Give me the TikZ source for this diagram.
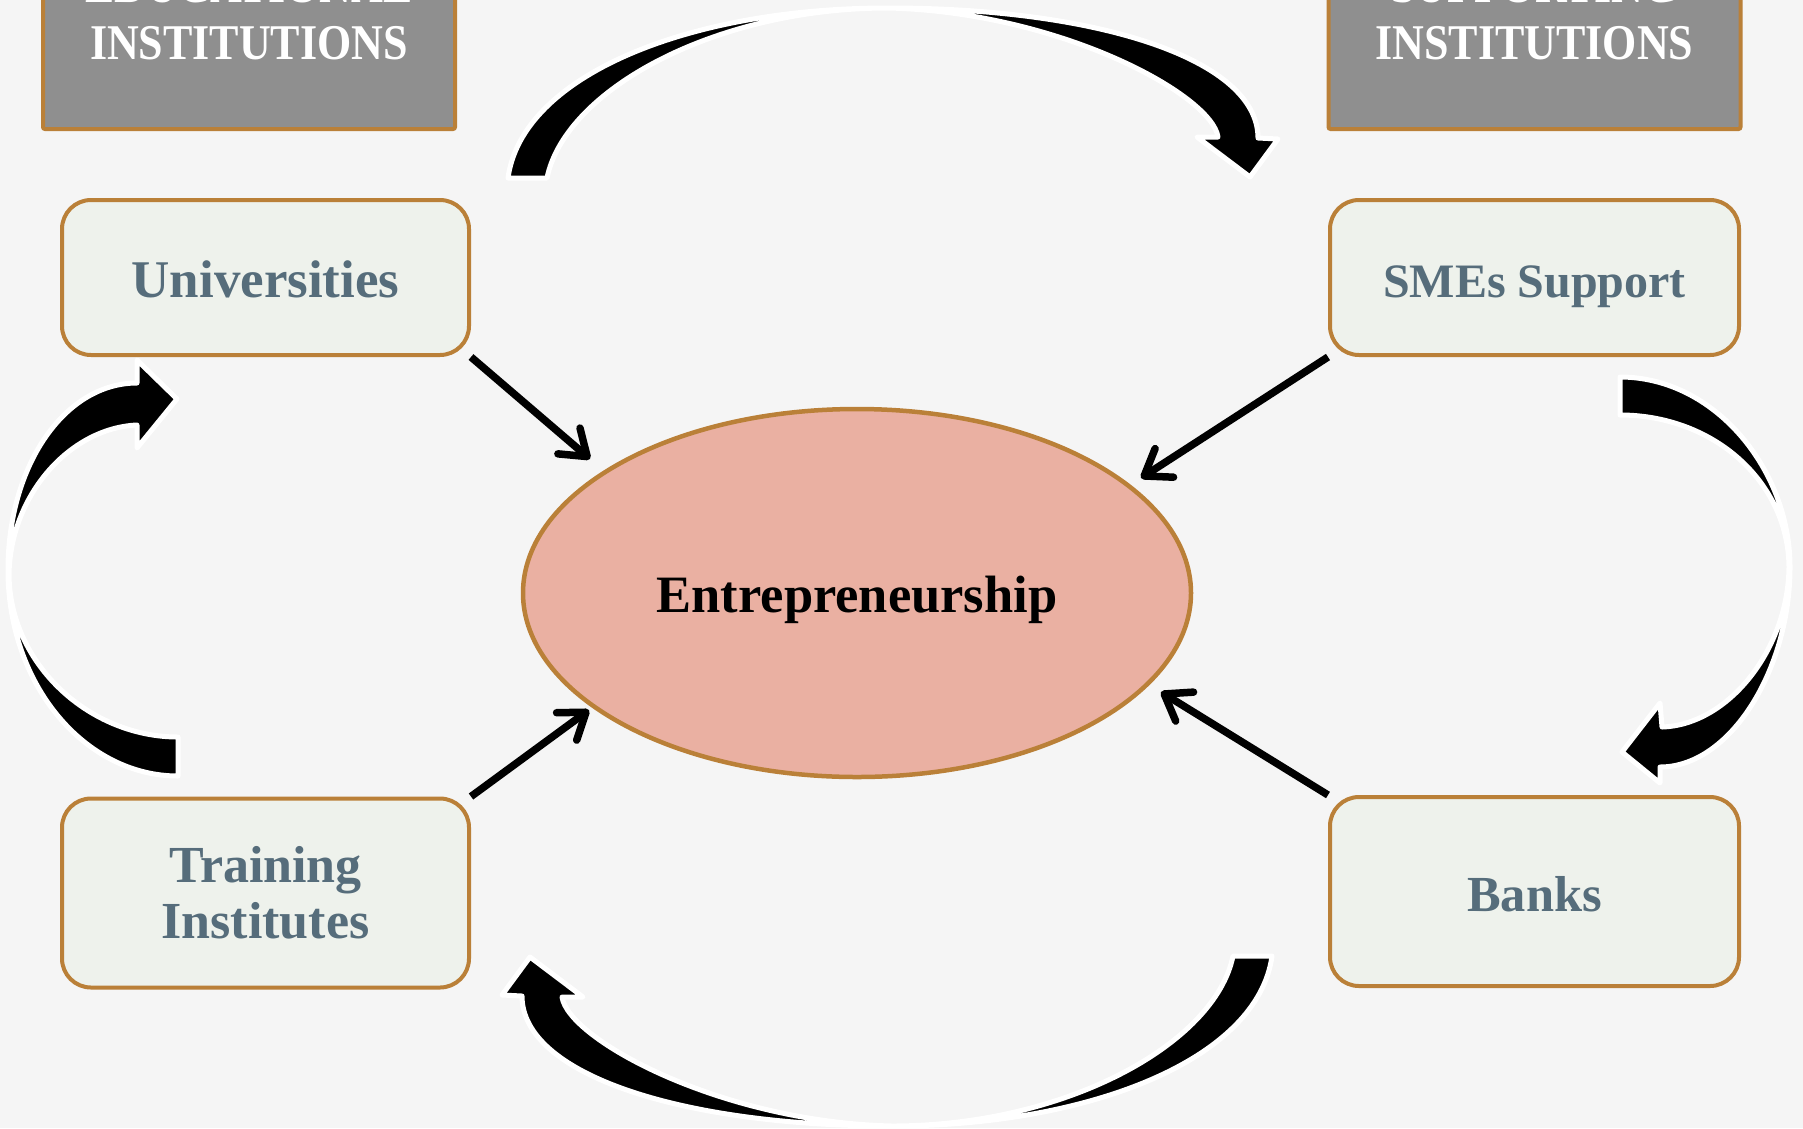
\documentclass[tikz,border=0pt]{standalone}
\usepackage{fontspec}
\setmainfont{Liberation Serif}
\newfontfamily\capsfont{Liberation Serif}[FakeStretch=0.88]
\usetikzlibrary{shapes.geometric,arrows.meta}
\definecolor{bg}{HTML}{F5F5F5}
\definecolor{gold}{HTML}{BA8038}
\definecolor{grayfill}{HTML}{8F8F8F}
\definecolor{lightfill}{HTML}{EEF2EC}
\definecolor{slate}{HTML}{566D7B}
\definecolor{pinkfill}{HTML}{EAB0A2}
\begin{document}
\begin{tikzpicture}[x=1pt,y=-1pt,
 graybox/.style={draw=gold, line width=4pt, fill=grayfill, minimum width=412pt, minimum height=260pt, inner sep=0pt, rounded corners=2pt},
 graylabel/.style={text=white, font=\capsfont\bfseries\fontsize{50}{57}\selectfont, align=center, inner sep=0pt, text depth=0pt, anchor=south},
 lightbox/.style={draw=gold, line width=4pt, fill=lightfill, rounded corners=29pt, inner sep=0pt, text=slate, align=center},
 oneline/.style={text height=39pt, text depth=0pt},
 centre/.style={ellipse, draw=gold, line width=4.5pt, fill=pinkfill, minimum width=668pt, minimum height=368pt, inner sep=0pt, font=\bfseries\fontsize{52.5}{56}\selectfont, text height=39pt, text depth=0pt},
 thinarrow/.style={line width=7.5pt, -{Straight Barb[length=24pt,width=34pt,line cap=round,line join=round]}},
 bigarrow/.style={fill=black, draw=white, line width=5pt, line join=round}]
\fill[bg] (0,0) rectangle (1803,1128);
\useasboundingbox (0,0) rectangle (1803,1128);
\clip (0,0) rectangle (1803,1128);

% big curved arrows
\path[bigarrow] (508,178) .. controls (522,75) and (690,8) .. (888,8)
  .. controls (1100,8) and (1258,60) .. (1258,138)
  -- (1278,139) -- (1250,177) -- (1197,137) -- (1218,137)
  .. controls (1212,95) and (1060,12) .. (888,8)
  .. controls (715,8) and (565,90) .. (547,178) -- cycle;
\begin{scope}[rotate around={180:(890,567)}]
\path[bigarrow] (508,178) .. controls (522,75) and (690,8) .. (888,8)
  .. controls (1100,8) and (1258,60) .. (1258,138)
  -- (1278,139) -- (1250,177) -- (1197,137) -- (1218,137)
  .. controls (1212,95) and (1060,12) .. (888,8)
  .. controls (715,8) and (565,90) .. (547,178) -- cycle;
\end{scope}
\path[bigarrow] (178,776) .. controls (85,776) and (8,685) .. (8,570)
  .. controls (8,465) and (65,383) .. (137,383)
  -- (137,360) -- (177,399) -- (137,448) -- (137,425)
  .. controls (70,428) and (10,495) .. (9,575)
  .. controls (10,665) and (90,737) .. (178,737) -- cycle;
\path[bigarrow] (1620,377) .. controls (1715,377) and (1790,470) .. (1790,567)
  .. controls (1790,670) and (1730,767) .. (1660,767)
  -- (1660,783) -- (1622,752) -- (1660,703) -- (1662,727)
  .. controls (1728,725) and (1788,650) .. (1789,567)
  .. controls (1788,480) and (1712,415) .. (1620,415) -- cycle;

% header boxes
\node[graybox] (edubox) at (249,-1) {};
\node[graylabel] (edulabel) at (249,60) {EDUCATIONAL\\INSTITUTIONS};
\node[graybox] (supbox) at (1534.5,-1) {};
\node[graylabel] (suplabel) at (1534.5,60) {SUPPORTING\\INSTITUTIONS};

% light boxes
\node[lightbox, oneline, font=\bfseries\fontsize{53}{56}\selectfont, minimum width=407pt, minimum height=155pt] (univ) at (265.5,277.5) {Universities};
\node[lightbox, oneline, font=\bfseries\fontsize{48}{56}\selectfont, minimum width=409pt, minimum height=155pt] (smes) at (1534.5,277.5) {SMEs Support};
\node[lightbox, font=\bfseries\fontsize{52}{56}\selectfont, minimum width=407pt, minimum height=189pt] (train) at (265.5,893) {Training\\Institutes};
\node[lightbox, oneline, font=\bfseries\fontsize{50.5}{56}\selectfont, minimum width=409pt, minimum height=189pt] (banks) at (1534.5,891.5) {Banks};

% centre
\node[centre] (ent) at (857,593) {Entrepreneurship};

% thin arrows
\coordinate (t1) at (590,459);
\coordinate (t2) at (1141,478);
\coordinate (t3) at (589,710);
\coordinate (t4) at (1161,692);
\draw[thinarrow] (univ.south east) -- (t1);
\draw[thinarrow] (smes.south west) -- (t2);
\draw[thinarrow] (train.north east) -- (t3);
\draw[thinarrow] (banks.north west) -- (t4);
\end{tikzpicture}
\end{document}
